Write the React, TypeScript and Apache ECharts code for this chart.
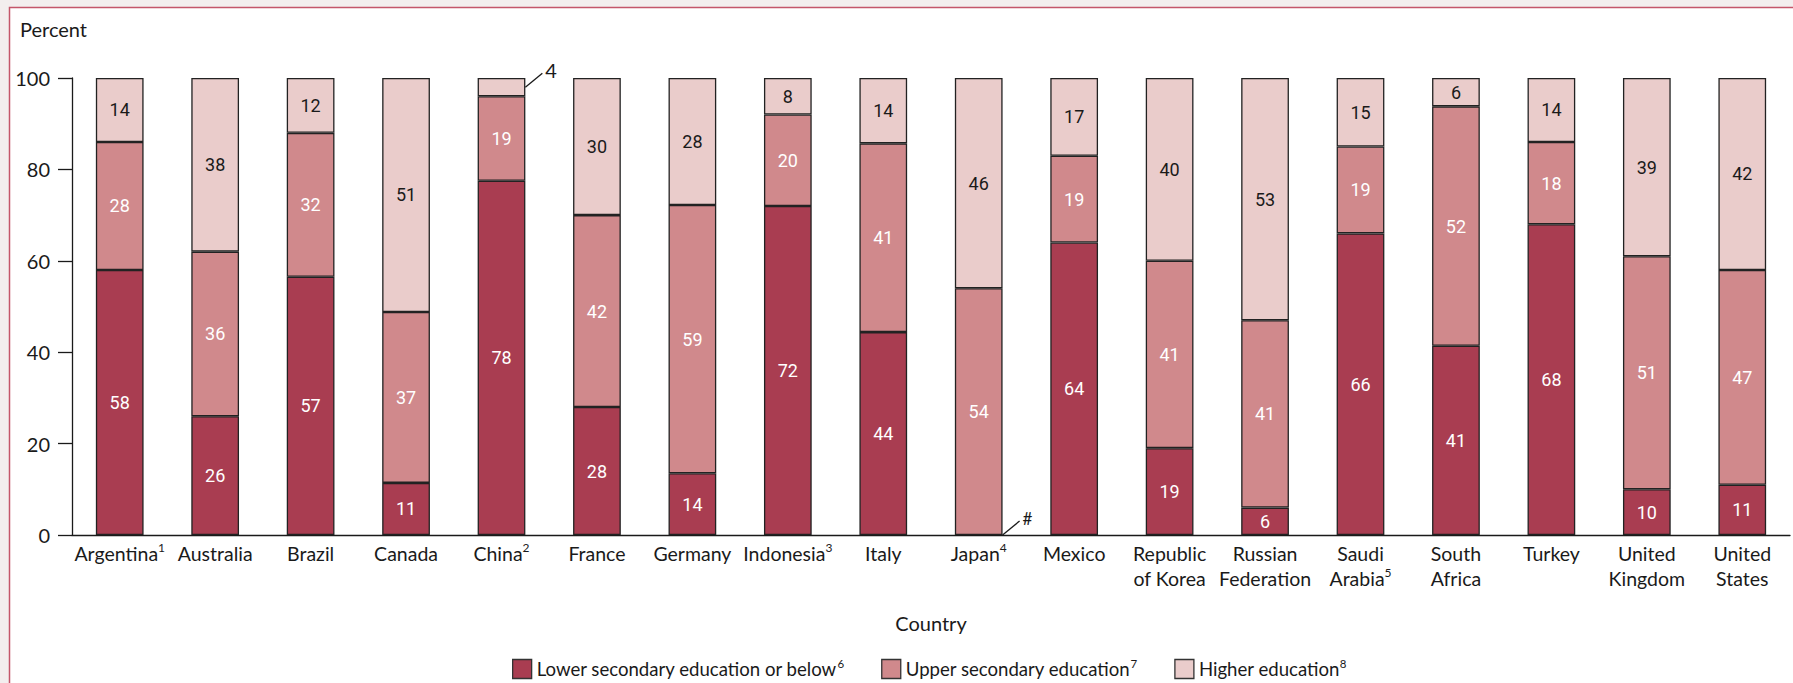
import React, { useEffect, useRef } from "react";
import * as echarts from "echarts";

const countries = [
  "Argentina", "Australia", "Brazil", "Canada", "China", "France", "Germany", "Indonesia", "Italy",
  "Japan", "Mexico", "Republic\nof Korea", "Russian\nFederation", "Saudi\nArabia", "South\nAfrica",
  "Turkey", "United\nKingdom", "United\nStates",
];
const countryNotes = ["1", "", "", "", "2", "", "", "3", "", "4", "", "", "", "5", "", "", "", ""];

const lowerSecondary = [58, 26, 56.5, 11.4, 77.5, 28, 13.5, 72, 44.4, 0, 64, 19, 6, 66, 41.4, 68, 10, 11];
const upperSecondary = [28, 36, 31.5, 37.4, 18.5, 42, 58.7, 20, 41.3, 54, 19, 41, 41, 19, 52.4, 18, 51, 47];
const higherEducation = [14, 38, 12, 51.2, 4, 30, 27.8, 8, 14.3, 46, 17, 40, 53, 15, 6.2, 14, 39, 42];

const seriesNames = ["Lower secondary education or below", "Upper secondary education", "Higher education"];
const seriesNotes = ["6", "7", "8"];
const seriesColors = ["#a93d51", "#d0898c", "#eacccb"];

const yTicks = [0, 20, 40, 60, 80, 100];

// labels drawn outside the bars with a leader line
const outsideNotes = [
  { country: "China", series: 2, text: "4" },
  { country: "Japan", series: 0, text: "#" },
];

const FONT = "Lato, 'Liberation Sans', sans-serif";
const INK = "#1a1a1a";

export default function App() {
  const ref = useRef<HTMLDivElement>(null);

  useEffect(() => {
    document.body.style.margin = "0";
    document.body.style.background = "#f3eeee";
    const chart = echarts.init(ref.current!, null, { renderer: "svg" });
    const seriesData = [lowerSecondary, upperSecondary, higherEducation];

    const frame = {
      type: "rect",
      silent: true,
      z: -10,
      shape: { x: 9.5, y: 7.5, width: 1800, height: 700 },
      style: { fill: "#ffffff", stroke: "#c4566a", lineWidth: 1.5 },
    };

    const option: any = {
      animation: false,
      backgroundColor: "#f3eeee",
      textStyle: { fontFamily: FONT },
      title: {
        text: "Percent",
        left: 20,
        top: 19,
        padding: 0,
        textStyle: { fontFamily: FONT, fontSize: 20, fontWeight: "normal", color: INK },
      },
      grid: { left: 72, right: 3, top: 78, bottom: 148, containLabel: false, outerBoundsMode: "none" },
      legend: {
        left: 512,
        top: 657,
        padding: 0,
        itemWidth: 19,
        itemHeight: 19,
        itemGap: 37,
        icon: "rect",
        itemStyle: { borderColor: "#333", borderWidth: 1.3 },
        data: seriesNames,
        formatter: (name: string) => {
          const i = seriesNames.indexOf(name);
          return `{n|${name}}{s|${seriesNotes[i]}}`;
        },
        textStyle: {
          fontFamily: FONT,
          fontSize: 18.6,
          color: INK,
          rich: {
            n: { fontFamily: FONT, fontSize: 18.6, color: INK, lineHeight: 24 },
            s: { fontFamily: FONT, fontSize: 11.5, color: INK, lineHeight: 17, verticalAlign: "top" },
          },
        },
      },
      xAxis: {
        type: "category",
        data: countries,
        axisLine: { lineStyle: { color: INK, width: 1.3 } },
        axisTick: { show: false },
        axisLabel: {
          interval: 0,
          margin: 6,
          formatter: (v: string, i: number) =>
            v.split("\n").map((l) => `{a|${l}}`).join("\n") + (countryNotes[i] ? `{s|${countryNotes[i]}}` : ""),
          rich: {
            a: { fontFamily: FONT, fontSize: 19.5, color: INK, lineHeight: 25 },
            s: { fontFamily: FONT, fontSize: 12, color: INK, lineHeight: 18, verticalAlign: "top" },
          },
        },
        name: "Country",
        nameLocation: "middle",
        nameGap: 78,
        nameTextStyle: { fontFamily: FONT, fontSize: 20, color: INK },
      },
      yAxis: {
        type: "value",
        min: yTicks[0],
        max: yTicks[yTicks.length - 1],
        interval: yTicks[1] - yTicks[0],
        axisLine: { show: true, lineStyle: { color: INK, width: 1.3 } },
        axisTick: { show: true, length: 14, lineStyle: { color: INK, width: 1.3 } },
        splitLine: { show: false },
        axisLabel: { margin: 22, fontFamily: FONT, fontSize: 20, color: INK },
      },
      series: seriesData.map((d, i) => ({
        name: seriesNames[i],
        type: "bar",
        stack: "total",
        data: d.map((v) => (v === 0 ? { value: v, itemStyle: { borderWidth: 0 } } : v)),
        barWidth: "50%",
        itemStyle: { color: seriesColors[i], borderColor: "#222", borderWidth: 1.3 },
        label: {
          show: true,
          position: "inside",
          fontFamily: "Roboto",
          fontSize: 18,
          color: i === 2 ? INK : "#ffffff",
          formatter: (p: any) => (p.value >= 5 ? String(Math.round(p.value)) : ""),
        },
      })),
      graphic: { elements: [frame] },
    };

    chart.setOption(option);

    const toPx = (ci: number, v: number) =>
      chart.convertToPixel({ xAxisIndex: 0, yAxisIndex: 0 }, [ci, v]) as number[];
    const halfBar = (toPx(1, 0)[0] - toPx(0, 0)[0]) * 0.25;
    const extra: any[] = [];
    outsideNotes.forEach((n) => {
      const ci = countries.indexOf(n.country);
      let base = 0;
      for (let s = 0; s < n.series; s++) base += seriesData[s][ci];
      const level = base + seriesData[n.series][ci] / 2;
      const p = toPx(ci, level);
      const x0 = p[0] + halfBar;
      const y0 = p[1];
      const x1 = x0 + 17;
      const y1 = y0 - 14;
      extra.push({
        type: "line",
        silent: true,
        z: 100,
        shape: { x1: x0, y1: y0, x2: x1, y2: y1 },
        style: { stroke: INK, lineWidth: 1.3 },
      });
      extra.push({
        type: "text",
        silent: true,
        z: 100,
        x: x1 + 3,
        y: y1 - 3,
        style: {
          text: n.text,
          fontFamily: FONT,
          fontSize: n.text === "#" ? 17 : 20,
          fill: INK,
          textAlign: "left",
          textVerticalAlign: "middle",
          verticalAlign: "middle",
        },
      });
    });
    chart.setOption({ graphic: { elements: [frame, ...extra] } });

    return () => chart.dispose();
  }, []);

  return <div ref={ref} style={{ width: 1793, height: 683 }} />;
}
